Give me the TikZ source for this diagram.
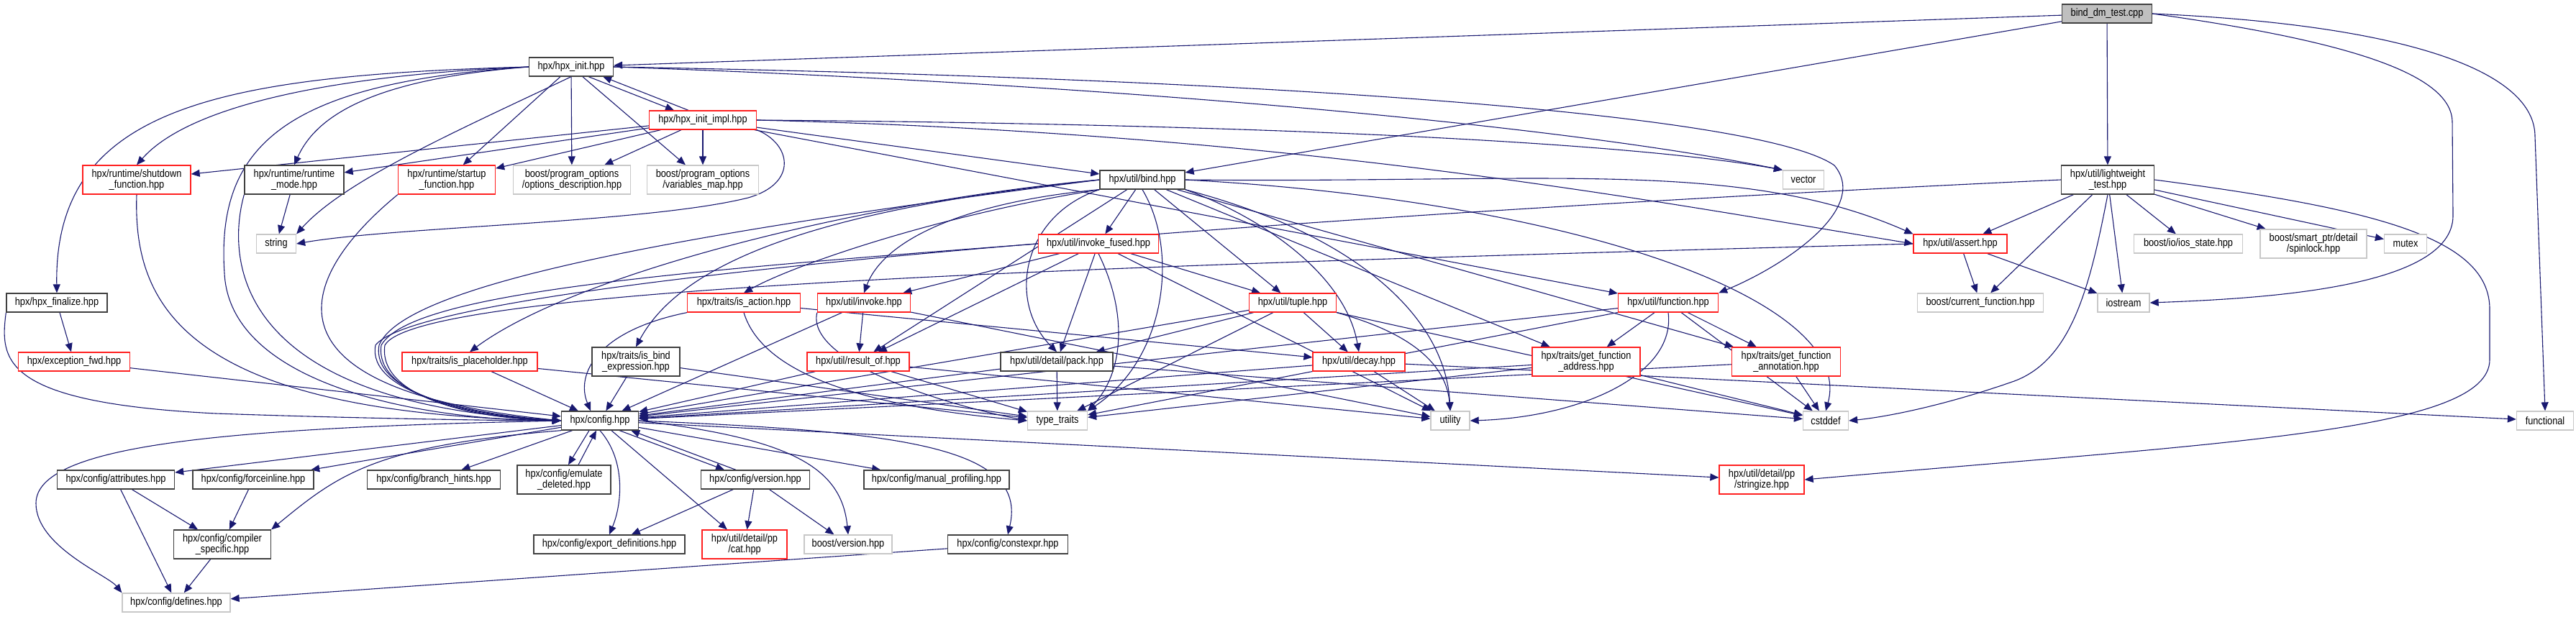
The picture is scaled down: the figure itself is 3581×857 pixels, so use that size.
\documentclass[tikz,border=0pt]{standalone}
\usepackage{fontspec}
\newfontfamily\dxfont[FakeStretch=0.85]{Liberation Sans}
\usetikzlibrary{arrows.meta,backgrounds}
\definecolor{edgeblue}{HTML}{191970}
\definecolor{extgray}{HTML}{C8C8C8}
\definecolor{rootgray}{HTML}{BFBFBF}
\definecolor{hdrdark}{HTML}{404040}
\definecolor{truncred}{HTML}{FF2020}

\begin{document}
\begin{tikzpicture}[
    x=1pt, y=-1pt,
    file/.style={rectangle, draw=hdrdark, line width=1.3pt, fill=white,
        font=\dxfont\fontsize{15}{15}\selectfont, align=center,
        inner sep=1pt, minimum height=26pt},
    two/.style={minimum height=40pt},
    trunc/.style={file, draw=truncred},
    ext/.style={file, draw=extgray},
    root/.style={file, fill=rootgray},
    inc/.style={draw=edgeblue, line width=1.1pt, -{Triangle[length=12pt,width=10pt]}}
]
    \useasboundingbox (0,0) rectangle (3581,857);

    % Top rows
    \node[root, minimum width=125pt] (test) at (2929,19) {bind\_dm\_test.cpp};
    \node[file, minimum width=117pt] (init) at (794,93) {hpx/hpx\_init.hpp};
    \node[trunc, minimum width=149pt] (impl) at (977,167) {hpx/hpx\_init\_impl.hpp};
    \node[file, minimum width=118pt] (bind) at (1588,250) {hpx/util/bind.hpp};

    \node[trunc, two, minimum width=150pt] (shutdown) at (190,250) {hpx/runtime/shutdown\\\_function.hpp};
    \node[file, two, minimum width=138pt] (rmode) at (409,250) {hpx/runtime/runtime\\\_mode.hpp};
    \node[trunc, two, minimum width=135pt] (startup) at (621,250) {hpx/runtime/startup\\\_function.hpp};
    \node[ext, two, minimum width=163pt] (optdesc) at (795,250) {boost/program\_options\\/options\_description.hpp};
    \node[ext, two, minimum width=155pt] (varmap) at (977,250) {boost/program\_options\\/variables\_map.hpp};
    \node[ext, minimum width=57pt] (vector) at (2507,250) {vector};
    \node[file, two, minimum width=129pt] (lwt) at (2930,250) {hpx/util/lightweight\\\_test.hpp};

    \node[ext, minimum width=55pt] (string) at (384,339) {string};
    \node[trunc, minimum width=167pt] (ifused) at (1527,339) {hpx/util/invoke\_fused.hpp};
    \node[trunc, minimum width=130pt] (assert) at (2725,339) {hpx/util/assert.hpp};
    \node[ext, minimum width=151pt] (iosstate) at (3042,339) {boost/io/ios\_state.hpp};
    \node[ext, two, minimum width=148pt] (spinlock) at (3216,339) {boost/smart\_ptr/detail\\/spinlock.hpp};
    \node[ext, minimum width=59pt] (mutex) at (3344,339) {mutex};

    \node[file, minimum width=140pt] (finalize) at (79,421) {hpx/hpx\_finalize.hpp};
    \node[trunc, minimum width=157pt] (isaction) at (1034,421) {hpx/traits/is\_action.hpp};
    \node[trunc, minimum width=129pt] (invoke) at (1201,421) {hpx/util/invoke.hpp};
    \node[trunc, minimum width=121pt] (tuple) at (1797,421) {hpx/util/tuple.hpp};
    \node[trunc, minimum width=139pt] (function) at (2319,421) {hpx/util/function.hpp};
    \node[ext, minimum width=175pt] (curfunc) at (2753,421) {boost/current\_function.hpp};
    \node[ext, minimum width=72pt] (iostream) at (2952,421) {iostream};

    \node[trunc, minimum width=155pt] (excfwd) at (103,503) {hpx/exception\_fwd.hpp};
    \node[trunc, minimum width=188pt] (isph) at (653,503) {hpx/traits/is\_placeholder.hpp};
    \node[file, two, minimum width=122pt] (isbind) at (884,503) {hpx/traits/is\_bind\\\_expression.hpp};
    \node[trunc, minimum width=142pt] (resultof) at (1193,503) {hpx/util/result\_of.hpp};
    \node[file, minimum width=156pt] (pack) at (1469,503) {hpx/util/detail/pack.hpp};
    \node[trunc, minimum width=128pt] (decay) at (1889,503) {hpx/util/decay.hpp};
    \node[trunc, two, minimum width=150pt] (gfaddr) at (2205,503) {hpx/traits/get\_function\\\_address.hpp};
    \node[trunc, two, minimum width=151pt] (gfann) at (2483,503) {hpx/traits/get\_function\\\_annotation.hpp};

    % Config row
    \node[file, minimum width=107pt] (config) at (834,585) {hpx/config.hpp};
    \node[ext, minimum width=83pt] (typetr) at (1470,585) {type\_traits};
    \node[ext, minimum width=54pt] (utility) at (2016,585) {utility};
    \node[ext, minimum width=63pt] (cstddef) at (2538,585) {cstddef};
    \node[ext, minimum width=79pt] (functional) at (3538,585) {functional};

    \node[file, minimum width=163pt] (attrib) at (161,667) {hpx/config/attributes.hpp};
    \node[file, minimum width=168pt] (forceinl) at (352,667) {hpx/config/forceinline.hpp};
    \node[file, minimum width=185pt] (branch) at (603,667) {hpx/config/branch\_hints.hpp};
    \node[file, two, minimum width=130pt] (emulate) at (784,667) {hpx/config/emulate\\\_deleted.hpp};
    \node[file, minimum width=151pt] (version) at (1050,667) {hpx/config/version.hpp};
    \node[file, minimum width=202pt] (manprof) at (1302,667) {hpx/config/manual\_profiling.hpp};
    \node[trunc, two, minimum width=118pt] (stringize) at (2449,667) {hpx/util/detail/pp\\/stringize.hpp};

    \node[file, two, minimum width=135pt] (compspec) at (309,757) {hpx/config/compiler\\\_specific.hpp};
    \node[file, minimum width=210pt] (exportdef) at (847,757) {hpx/config/export\_definitions.hpp};
    \node[trunc, two, minimum width=118pt] (cat) at (1035,757) {hpx/util/detail/pp\\/cat.hpp};
    \node[ext, minimum width=122pt] (bversion) at (1179,757) {boost/version.hpp};
    \node[file, minimum width=167pt] (constexpr) at (1401,757) {hpx/config/constexpr.hpp};

    \node[ext, minimum width=150pt] (defines) at (245,838) {hpx/config/defines.hpp};

    \begin{scope}[on background layer]
    % bind_dm_test.cpp
    \draw[inc] (test) -- (init);
    \draw[inc] (test) -- (bind);
    \draw[inc] (test) -- (lwt);
    \draw[inc] (test.east) .. controls (3250,55) and (3409,100) .. (3409,170) -- (3410,300) .. controls (3410,400) and (3150,415) .. (iostream.east);
    \draw[inc] (test.east) .. controls (3350,35) and (3524,100) .. (3524,190) -- (functional.north);

    % hpx_init.hpp
    \draw[inc] (init.west) .. controls (300,105) and (75,150) .. (finalize.north);
    \draw[inc] (init.west) .. controls (450,105) and (260,150) .. (shutdown.north);
    \draw[inc] (init.west) .. controls (520,110) and (440,160) .. (rmode.north);
    \draw[inc] (init.west) .. controls (400,115) and (300,200) .. (312,380) .. controls (320,540) and (600,585) .. (config.west);
    \draw[inc] (init.south) .. controls (640,180) and (480,250) .. (string.north east);
    \draw[inc] (init) -- (startup);
    \draw[inc] (init) -- (optdesc);
    \draw[inc] (init) -- (varmap);
    \draw[inc] ([xshift=-35pt]init.south east) -- ([xshift=-40pt]impl.north);
    \draw[inc] (init.east) .. controls (1500,115) and (2150,170) .. (vector.north west);
    \draw[inc] (init.east) .. controls (1800,110) and (2450,160) .. (2550,230) .. controls (2600,290) and (2480,370) .. (function.north east);

    % hpx_init_impl.hpp
    \draw[inc] ([xshift=-20pt]impl.north) -- ([xshift=-15pt]init.south east);
    \draw[inc] (impl) -- (shutdown);
    \draw[inc] (impl) -- (rmode);
    \draw[inc] (impl) -- (startup);
    \draw[inc] (impl) -- (optdesc);
    \draw[inc] (impl) -- (varmap);
    \draw[inc] (impl.south east) .. controls (1100,200) and (1110,255) .. (1040,275) .. controls (900,310) and (550,315) .. (string.east);
    \draw[inc] (impl) -- (bind);
    \draw[inc] (impl.east) .. controls (1700,172) and (2250,195) .. (vector.north west);
    \draw[inc] (impl.east) .. controls (1800,185) and (2300,280) .. (assert.west);
    \draw[inc] (impl) -- (function);

    % hpx/util/bind.hpp
    \draw[inc] (bind) -- (ifused);
    \draw[inc] (bind.south west) .. controls (1350,280) and (1230,330) .. (invoke.north);
    \draw[inc] (bind) -- (tuple);
    \draw[inc] (bind) -- (resultof);
    \draw[inc] (bind.south west) .. controls (1420,300) and (1400,420) .. (pack.north);
    \draw[inc] (bind.south) .. controls (1640,350) and (1620,500) .. (typetr.north east);
    \draw[inc] (bind.south east) .. controls (1750,300) and (1870,380) .. (decay.north);
    \draw[inc] (bind.south east) .. controls (1900,330) and (2010,450) .. (utility.north);
    \draw[inc] (bind.east) .. controls (2200,280) and (2580,420) .. (cstddef.north);
    \draw[inc] (bind) -- (gfaddr);
    \draw[inc] (bind) -- (gfann);
    \draw[inc] (bind.west) .. controls (1200,280) and (800,380) .. (isph.north);
    \draw[inc] (bind.west) .. controls (1150,290) and (950,360) .. (isbind.north);
    \draw[inc] (bind.south west) .. controls (1300,300) and (1100,370) .. (isaction.north);
    \draw[inc] (bind.west) .. controls (900,330) and (560,400) .. (527,480) .. controls (515,545) and (650,578) .. (config.west);
    \draw[inc] (bind.east) .. controls (2150,255) and (2420,220) .. (assert.north west);

    % invoke_fused, invoke, traits
    \draw[inc] (ifused) -- (invoke);
    \draw[inc] (ifused) -- (resultof);
    \draw[inc] (ifused) -- (pack);
    \draw[inc] (ifused) -- (tuple);
    \draw[inc] (ifused.south) .. controls (1570,440) and (1560,520) .. (typetr.north east);
    \draw[inc] (ifused) -- (utility);
    \draw[inc] (ifused.west) .. controls (900,380) and (570,410) .. (530,480) .. controls (520,548) and (650,580) .. (config.west);
    \draw[inc] (invoke) -- (config);
    \draw[inc] (invoke) -- (resultof);
    \draw[inc] (invoke.south west) .. controls (1120,500) and (1300,560) .. (typetr.west);
    \draw[inc] (invoke) -- (utility);
    \draw[inc] (isaction.south west) .. controls (830,460) and (800,520) .. ([xshift=-13pt]config.north);
    \draw[inc] (isaction.south) .. controls (1060,520) and (1200,565) .. (typetr.west);
    \draw[inc] (isaction) -- (decay);
    \draw[inc] (isph) -- (config);
    \draw[inc] (isph) -- (typetr);
    \draw[inc] (isbind) -- (config);
    \draw[inc] (isbind) -- (typetr);
    \draw[inc] (resultof) -- (config);
    \draw[inc] (resultof) -- (typetr);
    \draw[inc] (resultof) -- (utility);
    \draw[inc] (pack) -- (typetr);
    \draw[inc] (pack) -- (config);
    \draw[inc] (pack) -- (cstddef);
    \draw[inc] (tuple) -- (pack);
    \draw[inc] (tuple) -- (decay);
    \draw[inc] (tuple) -- (typetr);
    \draw[inc] (tuple.south east) .. controls (1950,460) and (2010,500) .. (utility.north);
    \draw[inc] (tuple) -- (cstddef);
    \draw[inc] (tuple) -- (config);
    \draw[inc] (decay) -- (utility);
    \draw[inc] (decay) -- (config);
    \draw[inc] (decay) -- (functional);

    % function, traits
    \draw[inc] (function) -- (gfaddr);
    \draw[inc] (function) -- (gfann);
    \draw[inc] (function) -- (config);
    \draw[inc] (function.south) .. controls (2330,520) and (2200,580) .. (utility.east);
    \draw[inc] (function) -- (typetr);
    \draw[inc] (function) -- (cstddef);
    \draw[inc] (gfaddr) -- (config);
    \draw[inc] (gfaddr) -- (cstddef);
    \draw[inc] (gfaddr) -- (typetr);
    \draw[inc] (gfann) -- (cstddef);
    \draw[inc] (gfann) -- (config);

    % assert, lightweight_test
    \draw[inc] (assert) -- (curfunc);
    \draw[inc] (assert) -- (iostream);
    \draw[inc] (assert.west) .. controls (1500,370) and (580,400) .. (535,480) .. controls (525,550) and (650,582) .. (config.west);
    \draw[inc] (lwt) -- (assert);
    \draw[inc] (lwt) -- (curfunc);
    \draw[inc] (lwt) -- (iostream);
    \draw[inc] (lwt) -- (iosstate);
    \draw[inc] (lwt) -- (spinlock);
    \draw[inc] (lwt) -- (mutex);
    \draw[inc] (lwt.south) .. controls (2905,400) and (2880,500) .. (2800,530) .. controls (2700,565) and (2620,580) .. (cstddef.east);
    \draw[inc] (lwt.east) .. controls (3300,290) and (3461,330) .. (3461,430) -- (3461,500) .. controls (3461,600) and (3100,615) .. (stringize.east);
    \draw[inc] (lwt.west) .. controls (2000,290) and (600,380) .. (522,480) .. controls (510,545) and (650,576) .. (config.west);

    % runtime headers
    \draw[inc] (finalize) -- (excfwd);
    \draw[inc] (finalize.south west) .. controls (0,500) and (0,560) .. (300,575) .. controls (500,582) and (700,585) .. (config.west);
    \draw[inc] (excfwd) -- (config);
    \draw[inc] (shutdown.south) .. controls (185,420) and (250,575) .. (config.west);
    \draw[inc] (rmode) -- (string);
    \draw[inc] (rmode.south west) .. controls (320,340) and (300,560) .. (config.west);
    \draw[inc] (startup.south west) .. controls (420,380) and (340,540) .. (config.west);

    % hpx/config.hpp
    \draw[inc] (config.west) .. controls (300,595) and (50,620) .. (50,700) .. controls (50,760) and (150,800) .. (defines.north west);
    \draw[inc] (config) -- (attrib);
    \draw[inc] (config) -- (forceinl);
    \draw[inc] (config.south west) .. controls (520,620) and (470,660) .. (compspec.north east);
    \draw[inc] (config) -- (branch);
    \draw[inc] ([xshift=-15pt]config.south) -- ([xshift=6pt]emulate.north);
    \draw[inc] ([xshift=20pt]emulate.north) -- ([xshift=-5pt]config.south);
    \draw[inc] (config.south) .. controls (870,640) and (865,700) .. (exportdef.north);
    \draw[inc] (config) -- (cat);
    \draw[inc] ([xshift=-27pt]config.south east) -- ([xshift=-43pt]version.north);
    \draw[inc] ([xshift=-27pt]version.north) -- ([xshift=-11pt]config.south east);
    \draw[inc] (config.east) .. controls (1100,610) and (1170,650) .. (bversion.north);
    \draw[inc] (config) -- (manprof);
    \draw[inc] (config.east) .. controls (1250,600) and (1430,620) .. (constexpr.north);
    \draw[inc] (config) -- (stringize);

    % config leaves
    \draw[inc] (attrib) -- (compspec);
    \draw[inc] (attrib) -- (defines);
    \draw[inc] (forceinl) -- (compspec);
    \draw[inc] (compspec) -- (defines);
    \draw[inc] (version) -- (exportdef);
    \draw[inc] (version) -- (cat);
    \draw[inc] (version) -- (bversion);
    \draw[inc] (constexpr) -- (defines);
    \end{scope}

\end{tikzpicture}
\end{document}
